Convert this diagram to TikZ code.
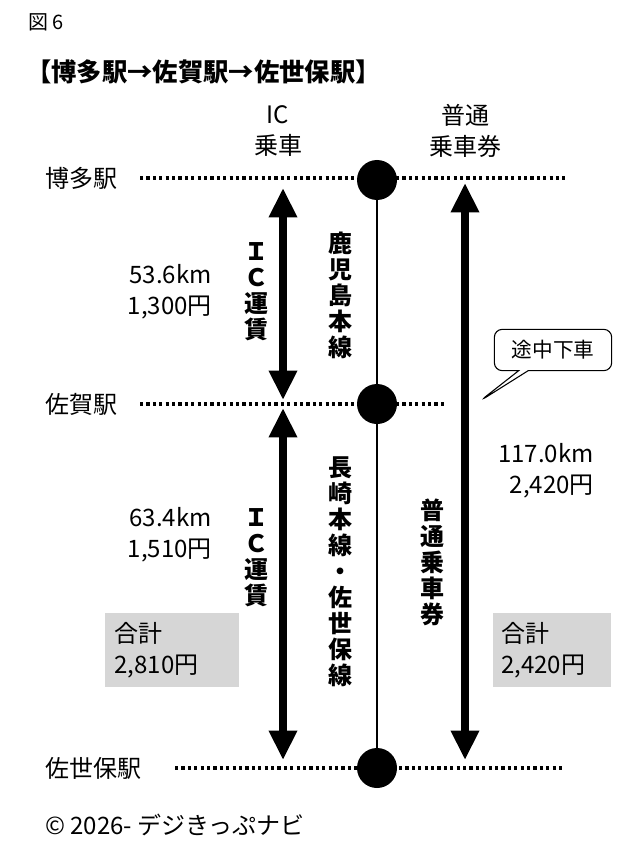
\documentclass[tikz,border=0pt]{standalone}
\usepackage{fontspec}
\setmainfont{Noto Sans CJK JP}
\usetikzlibrary{arrows.meta,shapes.callouts}
\begin{document}
\begin{tikzpicture}[x=0.75pt,y=-0.75pt,
  lab/.style={font=\fontsize{18}{23}\selectfont,inner sep=0pt},
  vt/.style={font=\bfseries\fontsize{18}{19.5}\selectfont,align=center,inner sep=0pt},
  dots/.style={line width=2.4pt,dash pattern=on 2.4pt off 2.4pt},
  big/.style={line width=6pt,{Triangle[width=20pt,length=22pt]}-{Triangle[width=20pt,length=22pt]}},
  stn/.style={circle,fill=black,minimum size=30pt,inner sep=0pt},
  sum/.style={fill=black!16,minimum height=56pt,lab,align=left}]
\useasboundingbox (0,0) rectangle (640,859);
\node[lab,anchor=west,font=\fontsize{15}{18}\selectfont] (fig) at (28,22) {図 6};
\node[anchor=west,inner sep=0pt,font=\bfseries\fontsize{19}{22}\selectfont] (title) at (26,72) {【博多駅→佐賀駅→佐世保駅】};
\node[lab,align=center] (ic) at (278,131) {IC\\乗車};
\node[lab,align=center] (fu) at (465,131) {普通\\乗車券};
\node[lab,anchor=west] (s1) at (45,178) {博多駅};
\node[lab,anchor=west] (s2) at (45,404) {佐賀駅};
\node[lab,anchor=west] (s3) at (45,768) {佐世保駅};
\coordinate (d1a) at (140,178); \coordinate (d1b) at (565,178);
\coordinate (d2a) at (140,404); \coordinate (d2b) at (445,404);
\coordinate (d3a) at (175,768); \coordinate (d3b) at (565,768);
\draw[dots] (d1a)--(d1b); \draw[dots] (d2a)--(d2b); \draw[dots] (d3a)--(d3b);
\draw[line width=1.6pt] (377,180)--(377,768);
\node[stn] (c1) at (377,180) {};
\node[stn] (c2) at (377,404) {};
\node[stn] (c3) at (377,768) {};
\coordinate (a1t) at (283,188); \coordinate (a1b) at (283,400);
\coordinate (a2t) at (283,408); \coordinate (a2b) at (283,760);
\coordinate (a3t) at (465,183); \coordinate (a3b) at (465,760);
\draw[big] (a1t)--(a1b); \draw[big] (a2t)--(a2b); \draw[big] (a3t)--(a3b);
\node[vt] (v1) at (256,292) {Ｉ\\Ｃ\\運\\賃};
\node[vt] (v2) at (256,558) {Ｉ\\Ｃ\\運\\賃};
\node[vt] (v3) at (340,295) {鹿\\児\\島\\本\\線};
\node[vt] (v4) at (340,572) {長\\崎\\本\\線\\・\\佐\\世\\保\\線};
\node[vt] (v5) at (432,562) {普\\通\\乗\\車\\券};
\node[lab,align=right,anchor=east] (k1) at (212,292) {53.6km\\1,300円};
\node[lab,align=right,anchor=east] (k2) at (212,535) {63.4km\\1,510円};
\node[lab,align=right,anchor=west] (k3) at (498,471) {117.0km\\\ 2,420円};
\node[sum,minimum width=101pt,text width=86pt] (t1) at (172,650) {合計\\2,810円};
\node[sum,minimum width=89pt,text width=76pt] (t2) at (552,650) {合計\\2,420円};
\node[rectangle callout,draw,rounded corners=6pt,line width=0.8pt,minimum width=88pt,minimum height=31pt,lab,font=\fontsize{15.5}{18}\selectfont,
  callout absolute pointer={(480,401)}] (cb) at (553,350) {途中下車};
\node[lab,anchor=west] (cp) at (45,825) {© 2026- デジきっぷナビ};
\end{tikzpicture}
\end{document}
